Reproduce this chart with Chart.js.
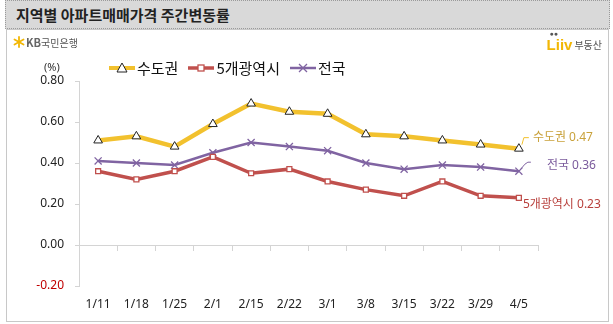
<!DOCTYPE html>
<html>
<head>
<meta charset="utf-8">
<script src="https://cdn.jsdelivr.net/npm/chart.js@4"></script>
<style>
  body { margin: 0; width: 613px; height: 324px; background: #fff; position: relative; overflow: hidden;
         font-family: 'Noto Sans CJK KR', sans-serif; }
  #title { position: absolute; left: 5px; top: 0px; width: 593px; height: 27px; padding-left: 10px;
           background: #d9d9d9; border: 1px dotted #9a9a9a; font-weight: bold; font-size: 15px;
           line-height: 27px; color: #222; }
  #box { position: absolute; left: 6px; top: 29px; width: 601px; height: 291px; border: 1px solid #c8c8c8; }
  #box canvas { position: absolute; left: 0; top: 0; }
  #kb { position: absolute; left: 6px; top: 4px; font-size: 10px; color: #555; display: flex; align-items: center; }
  #kb b { font-size: 11px; color: #666; font-weight: bold; margin-left: 1px; }
  #liiv { position: absolute; right: 6px; top: 6px; display: flex; align-items: flex-end; }
  #liiv .l { font-family: 'Liberation Sans', sans-serif; font-weight: bold; font-size: 15px; color: #f2b705; position: relative; }
  #liiv .dots { position: absolute; left: 3px; top: -6px; font-size: 7px; color: #555; letter-spacing: 0px; }
  #liiv .t { font-size: 10px; color: #555; margin-left: 2px; margin-bottom: 1px; }
  #unit { position: absolute; left: 37px; top: 29px; font-size: 11px; color: #333; font-family: 'Noto Sans', sans-serif; }
  #legend { position: absolute; left: 102px; top: 27px; display: flex; align-items: center; font-size: 15px; color: #111; }
  #legend .item { display: flex; align-items: center; margin-right: 10px; }
  #legend svg { margin-right: 2px; }
</style>
</head>
<body>
<div id="title">지역별 아파트매매가격 주간변동률</div>
<div id="box">
  <canvas id="chart" width="601" height="291"></canvas>
  <div id="kb">
    <svg width="12" height="12" viewBox="0 0 12 12">
      <g stroke="#f2b705" stroke-width="1.8" stroke-linecap="round">
        <line x1="6" y1="1" x2="6" y2="11"/><line x1="1.5" y1="3.5" x2="10.5" y2="8.5"/><line x1="1.5" y1="8.5" x2="10.5" y2="3.5"/>
      </g>
    </svg>
    <b>KB</b><span>국민은행</span>
  </div>
  <div id="liiv"><span class="l">Liiv<span class="dots">●●</span></span><span class="t">부동산</span></div>
  <div id="unit">(%)</div>
  <div id="legend"></div>
</div>
<script>
// 주간 기준일
const weeks = ['1/11', '1/18', '1/25', '2/1', '2/15', '2/22', '3/1', '3/8', '3/15', '3/22', '3/29', '4/5'];

// 주간 변동률 (%)
const sudogwon = [0.51, 0.53, 0.48, 0.59, 0.69, 0.65, 0.64, 0.54, 0.53, 0.51, 0.49, 0.47];
const gwangyeok = [0.36, 0.32, 0.36, 0.43, 0.35, 0.37, 0.31, 0.27, 0.24, 0.31, 0.24, 0.23];
const jeonguk = [0.41, 0.40, 0.39, 0.45, 0.50, 0.48, 0.46, 0.40, 0.37, 0.39, 0.38, 0.36];

const seriesNames = ['수도권', '5개광역시', '전국'];
const yTicks = [-0.2, 0, 0.2, 0.4, 0.6, 0.8];

const lineColors = ['#f2c12e', '#c0504d', '#8064a2'];
const textColors = ['#c9a23c', '#b8403c', '#7a5a9c'];

// 범례 (선 + 마커)
const icons = [
  '<line x1="0" y1="7" x2="26" y2="7" stroke="' + lineColors[0] + '" stroke-width="4"/>' +
  '<path d="M13 2 L18 11 L8 11 Z" fill="#fff" stroke="#222" stroke-width="1"/>',
  '<line x1="0" y1="7" x2="26" y2="7" stroke="' + lineColors[1] + '" stroke-width="3.5"/>' +
  '<rect x="10" y="4" width="6" height="6" fill="#fff" stroke="' + lineColors[1] + '" stroke-width="1.3"/>',
  '<line x1="0" y1="7" x2="26" y2="7" stroke="' + lineColors[2] + '" stroke-width="2.5"/>' +
  '<path d="M9 3 L17 11 M17 3 L9 11" stroke="' + lineColors[2] + '" stroke-width="1.3"/>'
];
const legendEl = document.getElementById('legend');
seriesNames.forEach((name, i) => {
  const item = document.createElement('div');
  item.className = 'item';
  item.innerHTML = '<svg width="26" height="14">' + icons[i] + '</svg><span>' + name + '</span>';
  legendEl.appendChild(item);
});

// 마지막 값 라벨
const endLabels = {
  id: 'endLabels',
  afterDatasetsDraw(chart) {
    const ctx = chart.ctx;
    ctx.save();
    ctx.font = "12px 'Noto Sans', 'Noto Sans CJK KR', sans-serif";
    ctx.textBaseline = 'middle';
    ctx.textAlign = 'left';
    chart.data.datasets.forEach((ds, i) => {
      const last = ds.data.length - 1;
      const pt = chart.getDatasetMeta(i).data[last];
      const lab = ds.endLabel;
      if (lab.leader) {
        ctx.strokeStyle = ds.borderColor;
        ctx.lineWidth = 1;
        ctx.beginPath();
        lab.leader.forEach(([dx, dy], k) => {
          if (k === 0) ctx.moveTo(pt.x + dx, pt.y + dy);
          else ctx.lineTo(pt.x + dx, pt.y + dy);
        });
        ctx.stroke();
      }
      ctx.fillStyle = textColors[i];
      ctx.fillText(ds.label + ' ' + ds.data[last].toFixed(2), pt.x + lab.dx, pt.y + lab.dy);
    });
    ctx.restore();
  }
};

Chart.defaults.font.family = "'Noto Sans', 'Noto Sans CJK KR', sans-serif";
Chart.defaults.font.size = 12;
Chart.defaults.color = '#333';

new Chart(document.getElementById('chart'), {
  type: 'line',
  data: {
    labels: weeks,
    datasets: [
      {
        label: seriesNames[0],
        data: sudogwon,
        borderColor: lineColors[0],
        borderWidth: 4.5,
        pointStyle: 'triangle',
        pointRadius: 5,
        pointBackgroundColor: '#fff',
        pointBorderColor: '#222',
        pointBorderWidth: 1,
        endLabel: { dx: 14, dy: -11, leader: [[3, -4], [5, -11], [10, -11]] }
      },
      {
        label: seriesNames[1],
        data: gwangyeok,
        borderColor: lineColors[1],
        borderWidth: 3.5,
        pointStyle: 'rect',
        pointRadius: 3.5,
        pointBackgroundColor: '#fff',
        pointBorderColor: lineColors[1],
        pointBorderWidth: 1.3,
        endLabel: { dx: 4, dy: 7 }
      },
      {
        label: seriesNames[2],
        data: jeonguk,
        borderColor: lineColors[2],
        borderWidth: 2.5,
        pointStyle: 'crossRot',
        pointRadius: 5,
        pointBorderColor: lineColors[2],
        pointBorderWidth: 1.3,
        endLabel: { dx: 28, dy: -6, leader: [[1, -1], [6, -7], [9, -9], [12, -9]] }
      }
    ]
  },
  options: {
    responsive: false,
    animation: false,
    layout: { padding: { left: 0, right: 70, top: 51, bottom: 0 } },
    plugins: { legend: { display: false }, tooltip: { enabled: false } },
    scales: {
      x: {
        offset: true,
        grid: { display: false, drawTicks: false },
        border: { display: false },
        ticks: { padding: 11, color: '#222', maxRotation: 0, autoSkip: false },
        afterFit: s => { s.height = 35; }
      },
      xZero: {
        type: 'category',
        position: { y: 0 },
        offset: true,
        grid: { offset: true, drawOnChartArea: false, tickLength: 5, color: '#d4d4d4' },
        border: { color: '#d4d4d4' },
        ticks: { display: false }
      },
      y: {
        min: yTicks[0],
        max: yTicks[yTicks.length - 1],
        afterBuildTicks: s => { s.ticks = yTicks.map(v => ({ value: v })); },
        grid: { drawOnChartArea: false, tickLength: 4, color: '#d4d4d4' },
        border: { color: '#d4d4d4' },
        ticks: {
          padding: 11,
          color: c => (c.tick.value < 0 ? '#c00000' : '#222'),
          callback: v => v.toFixed(2)
        },
        afterFit: s => { s.width = 72; }
      }
    }
  },
  plugins: [endLabels]
});
</script>
</body>
</html>
